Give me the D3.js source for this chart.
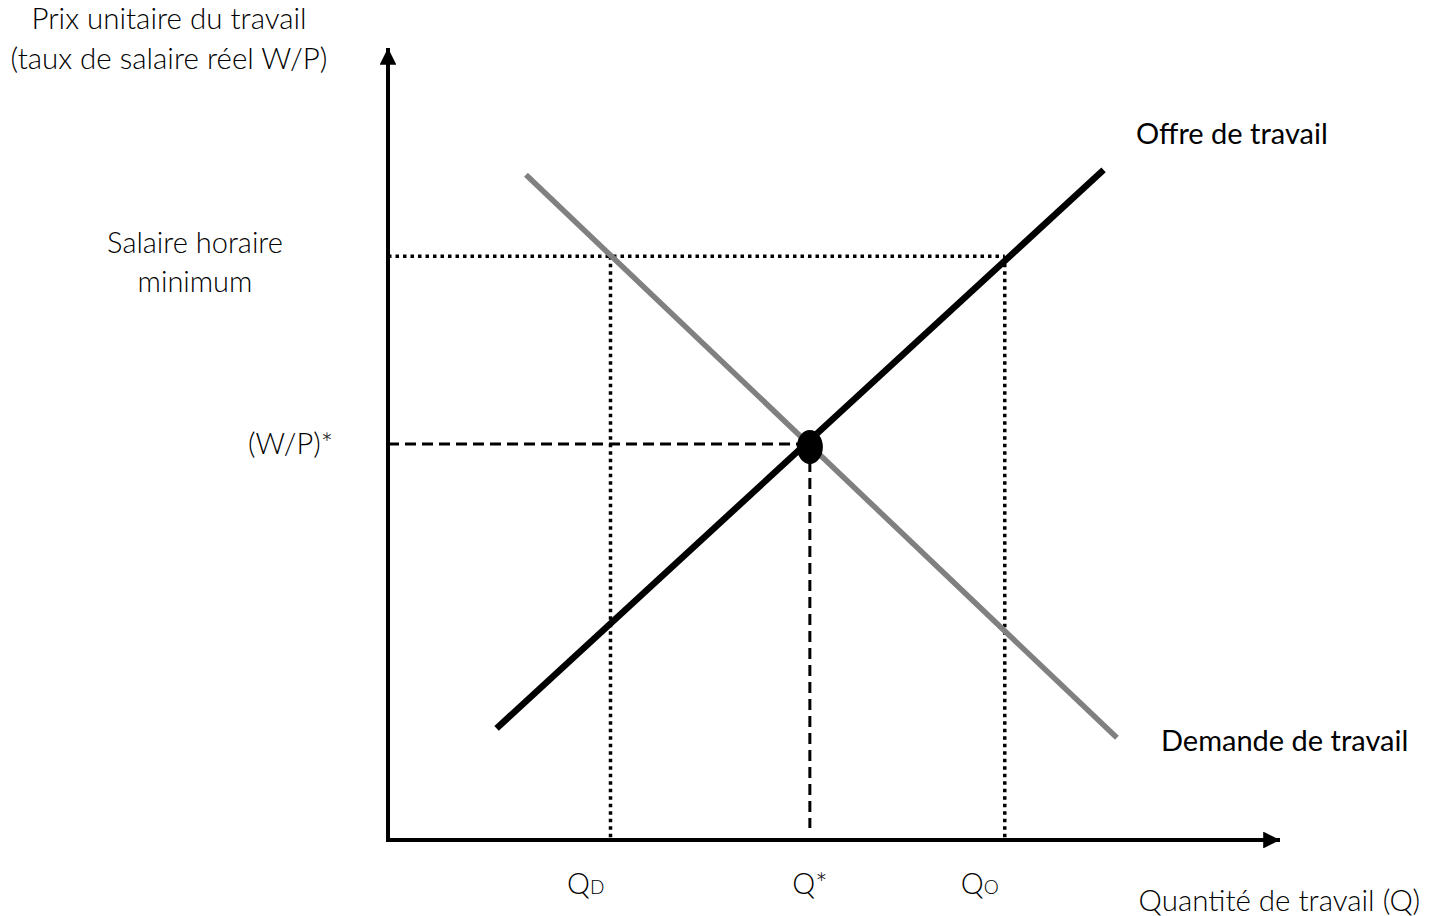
<!DOCTYPE html>
<html>
<head>
<meta charset="utf-8">
<script src="https://cdn.jsdelivr.net/npm/d3@7"></script>
<style>
  body { margin: 0; background: #fff; }
  text { font-family: Lato, "Open Sans", sans-serif; fill: #000; }
</style>
</head>
<body>
<div id="chart"></div>
<script>
// curves (quantity, real wage) in abstract units 0-100
const supply = [{ q: 12.2, w: 14.1 }, { q: 80.4, w: 84.6 }];
const demand = [{ q: 15.5, w: 84.0 }, { q: 81.9, w: 12.9 }];
const eq = { q: 47.4, w: 50.0 };
const wMin = 73.7;
const qD = 25.0, qO = 69.3;
const xTicks = [
  { q: qD, main: "Q", sub: "D" },
  { q: eq.q, main: "Q*", sub: "" },
  { q: qO, main: "Q", sub: "O" }
];

const width = 1437, height = 916;

const svg = d3.select("#chart")
  .append("svg")
  .attr("width", width)
  .attr("height", height);

const x = d3.scaleLinear().domain([0, 100]).range([388, 1278]);
const y = d3.scaleLinear().domain([0, 100]).range([840, 48]);

// arrow heads
const defs = svg.append("defs");
defs.append("marker")
  .attr("id", "arrow")
  .attr("viewBox", "0 0 10 10")
  .attr("refX", 10).attr("refY", 5)
  .attr("markerWidth", 5).attr("markerHeight", 4.2)
  .attr("markerUnits", "strokeWidth")
  .attr("orient", "auto")
  .append("path")
  .attr("d", "M0,0L10,5L0,10Z")
  .attr("fill", "#000");

// axes
svg.append("line")
  .attr("x1", x(0)).attr("y1", y(0) + 2)
  .attr("x2", x(0)).attr("y2", y(100))
  .attr("stroke", "#000").attr("stroke-width", 4)
  .attr("marker-end", "url(#arrow)");

svg.append("line")
  .attr("x1", x(0) - 2).attr("y1", y(0))
  .attr("x2", x(100) + 2).attr("y2", y(0))
  .attr("stroke", "#000").attr("stroke-width", 4)
  .attr("marker-end", "url(#arrow)");

// dotted guides for the minimum wage
const dotted = "3.5,4";
svg.append("line")
  .attr("x1", x(0)).attr("y1", y(wMin))
  .attr("x2", x(qO)).attr("y2", y(wMin))
  .attr("stroke", "#000").attr("stroke-width", 3.5)
  .attr("stroke-dasharray", dotted);

svg.selectAll(".vdot")
  .data([qD, qO])
  .join("line")
  .attr("class", "vdot")
  .attr("x1", d => x(d)).attr("y1", y(wMin))
  .attr("x2", d => x(d)).attr("y2", y(0))
  .attr("stroke", "#000").attr("stroke-width", 3.5)
  .attr("stroke-dasharray", dotted);

// dashed guides for the equilibrium
svg.append("line")
  .attr("x1", x(0)).attr("y1", y(eq.w))
  .attr("x2", x(eq.q)).attr("y2", y(eq.w))
  .attr("stroke", "#000").attr("stroke-width", 3)
  .attr("stroke-dasharray", "11,6");

svg.append("line")
  .attr("x1", x(eq.q)).attr("y1", y(eq.w))
  .attr("x2", x(eq.q)).attr("y2", y(0) - 12)
  .attr("stroke", "#000").attr("stroke-width", 3)
  .attr("stroke-dasharray", "11,6");

// curves
const line = d3.line().x(d => x(d.q)).y(d => y(d.w));

svg.append("path")
  .datum(demand)
  .attr("d", line)
  .attr("fill", "none")
  .attr("stroke", "#808080")
  .attr("stroke-width", 5.5);

svg.append("path")
  .datum(supply)
  .attr("d", line)
  .attr("fill", "none")
  .attr("stroke", "#000")
  .attr("stroke-width", 6.5);

svg.append("ellipse")
  .attr("cx", x(eq.q)).attr("cy", y(eq.w) + 3)
  .attr("rx", 13).attr("ry", 17)
  .attr("fill", "#000");

// x tick labels (subscripted ones sit a bit left of their guide)
const xl = svg.selectAll(".xtick")
  .data(xTicks)
  .join("text")
  .attr("class", "xtick")
  .attr("x", d => d.sub ? x(d.q) - 6 : x(d.q))
  .attr("y", 894)
  .attr("text-anchor", d => d.sub ? "end" : "middle")
  .attr("font-size", 29)
  .attr("font-weight", 300);
xl.append("tspan").text(d => d.main);
xl.append("tspan").attr("font-size", 19).text(d => d.sub);

// y labels
svg.append("text")
  .attr("x", 333).attr("y", y(eq.w) + 10)
  .attr("text-anchor", "end")
  .attr("font-size", 29).attr("font-weight", 300)
  .text("(W/P)*");

svg.append("text")
  .attr("text-anchor", "middle")
  .attr("font-size", 29).attr("font-weight", 300)
  .selectAll("tspan")
  .data(["Salaire horaire", "minimum"])
  .join("tspan")
  .attr("x", 195)
  .attr("y", (d, i) => y(wMin) - 3 + i * 39)
  .text(d => d);

svg.append("text")
  .attr("text-anchor", "middle")
  .attr("font-size", 29.5).attr("font-weight", 300)
  .selectAll("tspan")
  .data(["Prix unitaire du travail", "(taux de salaire réel W/P)"])
  .join("tspan")
  .attr("x", 169)
  .attr("y", (d, i) => 29 + i * 40)
  .text(d => d);

svg.append("text")
  .attr("x", 1420).attr("y", 911)
  .attr("text-anchor", "end")
  .attr("font-size", 29.5).attr("font-weight", 300)
  .text("Quantité de travail (Q)");

// curve labels
svg.append("text")
  .attr("x", 1136).attr("y", 144)
  .attr("font-size", 29)
  .text("Offre de travail");

svg.append("text")
  .attr("x", 1161).attr("y", 751)
  .attr("font-size", 29)
  .text("Demande de travail");
</script>
</body>
</html>
